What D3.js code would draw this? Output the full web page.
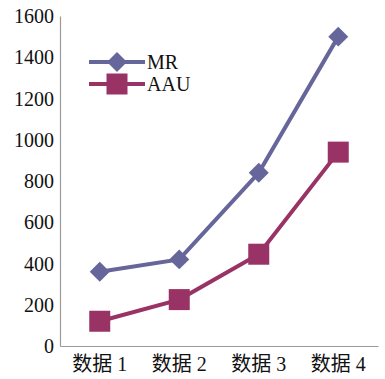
<!DOCTYPE html>
<html>
<head>
<meta charset="utf-8">
<script src="https://cdn.jsdelivr.net/npm/d3@7"></script>
<style>
  html, body { margin: 0; padding: 0; background: #fff; }
  svg { display: block; }
  text { font-family: "Liberation Serif", "Times New Roman", "Noto Sans CJK SC", serif; fill: #111; }
</style>
</head>
<body>
<svg id="chart" width="385" height="379"></svg>
<script>
// Chart data
const categories = ["数据 1", "数据 2", "数据 3", "数据 4"];
const mrValues = [360, 420, 840, 1500];
const aauValues = [120, 225, 445, 940];
const yTicks = [0, 200, 400, 600, 800, 1000, 1200, 1400, 1600];
const seriesNames = ["MR", "AAU"];

const svg = d3.select("#chart");
const margin = { left: 60, right: 7, top: 16, bottom: 33 };
const W = 385, H = 379;

const x = d3.scaleBand()
  .domain(categories)
  .range([margin.left, W - margin.right]);

const y = d3.scaleLinear()
  .domain([0, 1600])
  .range([H - margin.bottom, margin.top]);

const colors = { MR: "#66669a", AAU: "#993366" };

// Axes
const yAxis = svg.append("g")
  .attr("transform", `translate(${margin.left},0)`)
  .call(d3.axisLeft(y).tickValues(yTicks).tickFormat(d3.format("d")).tickSize(0).tickPadding(6));
yAxis.select(".domain").attr("stroke", "#9a9a9a").attr("stroke-width", 1.2);
yAxis.selectAll("text")
  .style("font-size", "20px")
  .attr("dy", "0.33em");

const xAxis = svg.append("g")
  .attr("transform", `translate(0,${y(0)})`)
  .call(d3.axisBottom(x).tickSize(0).tickPadding(11));
xAxis.select(".domain").attr("stroke", "#9a9a9a").attr("stroke-width", 1.2);
xAxis.selectAll("text").style("font-size", "20px");

const cx = d => x(d) + x.bandwidth() / 2;

const line = d3.line()
  .x((d, i) => cx(categories[i]))
  .y(d => y(d));

// MR series
svg.append("path")
  .datum(mrValues)
  .attr("fill", "none")
  .attr("stroke", colors.MR)
  .attr("stroke-width", 4)
  .attr("d", line);

const diamond = d3.symbol().type(d3.symbolSquare).size(200);
svg.selectAll(".mr-pt")
  .data(mrValues)
  .join("path")
  .attr("class", "mr-pt")
  .attr("d", diamond)
  .attr("fill", colors.MR)
  .attr("transform", (d, i) => `translate(${cx(categories[i])},${y(d)}) rotate(45)`);

// AAU series
svg.append("path")
  .datum(aauValues)
  .attr("fill", "none")
  .attr("stroke", colors.AAU)
  .attr("stroke-width", 4)
  .attr("d", line);

const sq = 21;
svg.selectAll(".aau-pt")
  .data(aauValues)
  .join("rect")
  .attr("class", "aau-pt")
  .attr("x", (d, i) => cx(categories[i]) - sq / 2)
  .attr("y", d => y(d) - sq / 2)
  .attr("width", sq)
  .attr("height", sq)
  .attr("fill", colors.AAU);

// Legend
const legend = svg.append("g");
const legY = [62, 84];
seriesNames.forEach((name, i) => {
  const g = legend.append("g").attr("transform", `translate(0,${legY[i]})`);
  g.append("line")
    .attr("x1", 89).attr("x2", 145)
    .attr("stroke", colors[name]).attr("stroke-width", 4);
  if (name === "MR") {
    g.append("path")
      .attr("d", diamond)
      .attr("fill", colors.MR)
      .attr("transform", "translate(117,0) rotate(45)");
  } else {
    g.append("rect")
      .attr("x", 117 - sq / 2).attr("y", -sq / 2)
      .attr("width", sq).attr("height", sq)
      .attr("fill", colors.AAU);
  }
  g.append("text")
    .attr("x", 147).attr("y", 0).attr("dy", "0.35em")
    .style("font-size", "20px")
    .text(name);
});
</script>
</body>
</html>
